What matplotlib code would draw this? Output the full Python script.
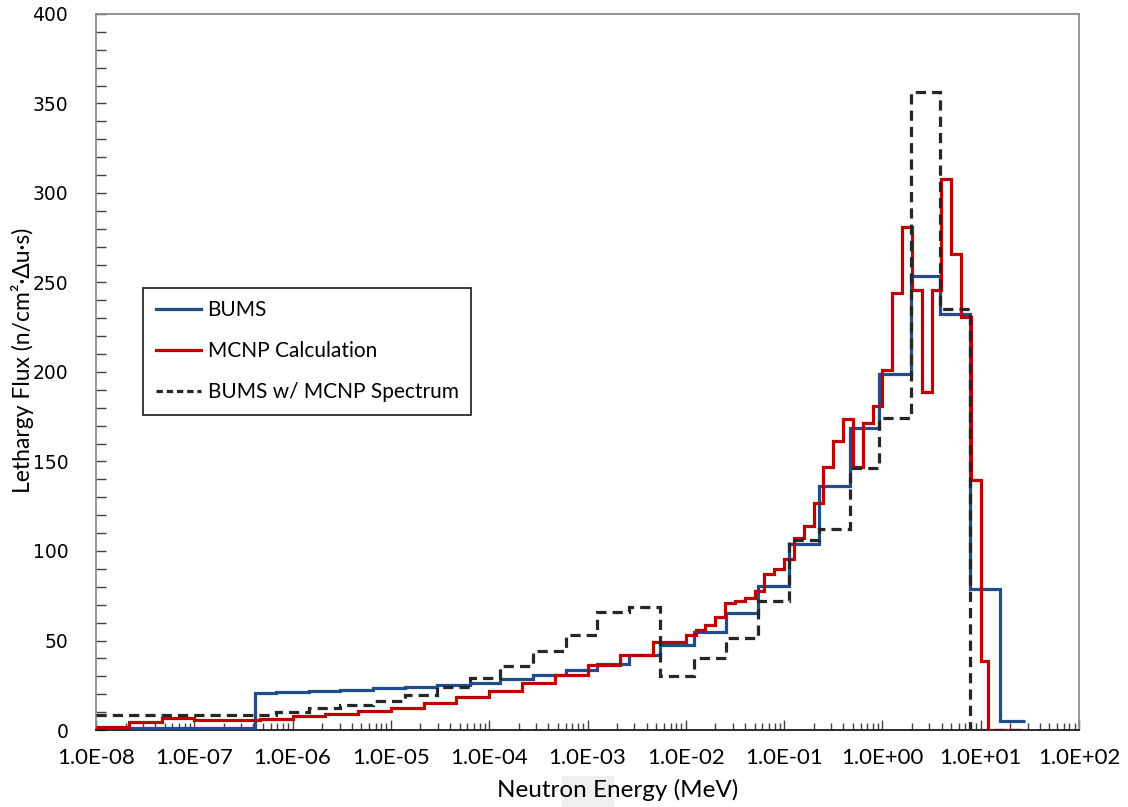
import numpy as np
import matplotlib
matplotlib.use("Agg")
import matplotlib.pyplot as plt
from matplotlib.patches import Rectangle
from matplotlib.ticker import LogLocator, MultipleLocator, FuncFormatter
from matplotlib.lines import Line2D

# ---- unfolded spectra: bin edges (MeV) and lethargy flux per bin ----
bums_edges = [2.19e-8, 4.17e-7, 6.76e-7, 1.48e-6, 3.02e-6, 6.61e-6, 1.38e-5,
              2.95e-5, 6.31e-5, 1.29e-4, 2.82e-4, 6.03e-4, 1.26e-3, 2.63e-3,
              5.50e-3, 1.20e-2, 2.57e-2, 5.37e-2, 0.113, 0.229, 0.465, 0.933,
              1.95, 3.85, 7.76, 15.7, 27.9]
bums_flux = [1.0, 20.5, 21.3, 21.8, 22.4, 23.3, 23.9, 25.0, 26.4, 28.5, 30.8,
             33.6, 36.9, 42.0, 47.6, 55.0, 65.6, 80.6, 104.0, 136.5, 168.8,
             199.0, 253.6, 232.5, 78.7, 5.2]

bums_mcnp_edges = [1.0e-8, 6.76e-7, 1.48e-6, 3.02e-6, 6.61e-6, 1.38e-5,
                   2.95e-5, 6.31e-5, 1.29e-4, 2.82e-4, 6.03e-4, 1.26e-3,
                   2.63e-3, 5.50e-3, 1.20e-2, 2.57e-2, 5.37e-2, 0.113, 0.229,
                   0.465, 0.933, 1.95, 3.85, 7.76, 15.7, 26.3]
bums_mcnp_flux = [8.6, 10.3, 12.1, 14.0, 16.4, 19.6, 23.9, 29.2, 35.8, 44.4,
                  53.1, 66.2, 68.6, 30.4, 40.1, 51.6, 72.3, 106.3, 112.3,
                  146.4, 174.3, 356.5, 235.3, 0.0, 0.0]

mcnp_edges = [1.00e-8, 2.15e-8, 4.64e-8, 1.00e-7, 2.15e-7, 4.64e-7, 1.00e-6,
              2.15e-6, 4.64e-6, 1.00e-5, 2.15e-5, 4.64e-5, 1.00e-4, 2.15e-4,
              4.64e-4, 1.00e-3, 2.15e-3, 4.64e-3, 1.00e-2, 1.26e-2, 1.58e-2,
              2.00e-2, 2.51e-2, 3.16e-2, 3.98e-2, 5.01e-2, 6.31e-2, 7.94e-2,
              0.100, 0.126, 0.158, 0.200, 0.251, 0.316, 0.398, 0.501, 0.631,
              0.794, 1.00, 1.26, 1.58, 2.00, 2.51, 3.16, 3.98, 5.01, 6.31,
              7.94, 10.0, 12.0, 26.3]
mcnp_flux = [1.6, 4.2, 6.5, 5.6, 5.6, 6.3, 8.0, 8.8, 10.6, 12.5, 15.3, 18.3,
             21.8, 26.1, 30.8, 36.4, 42.0, 49.4, 53.1, 55.9, 58.7, 63.4, 71.2,
             72.3, 73.6, 77.4, 87.3, 89.9, 95.7, 107.2, 113.7, 126.8, 146.7,
             161.7, 173.8, 147.0, 171.6, 181.0, 201.0, 244.0, 281.0, 245.6,
             189.0, 246.0, 307.7, 266.0, 231.0, 139.5, 38.6, 0.0]

series_labels = ["BUMS", "MCNP Calculation", "BUMS w/ MCNP Spectrum"]
x_tick_values = [1e-8, 1e-7, 1e-6, 1e-5, 1e-4, 1e-3, 1e-2, 1e-1, 1e0, 1e1, 1e2]

BLUE = "#1f4e8a"
RED = "#c00000"
DARK = "#262626"
FRAME = "#8c8c8c"

sans = ["Lato", "DejaVu Sans"]

fig = plt.figure(figsize=(11.28, 8.07), dpi=100)
fig.patches.append(Rectangle((562 / 1128, 0), 52 / 1128, 31 / 807,
                             transform=fig.transFigure, facecolor="#efefef",
                             edgecolor="none", zorder=-1))
ax = fig.add_axes([96 / 1128, 1 - 730 / 807, (1079 - 96) / 1128, (730 - 14) / 807])
ax.patch.set_alpha(0)

lw = 2.3
ax.stairs(bums_flux, bums_edges, color=BLUE, lw=lw, baseline=None, zorder=3)
ax.stairs(mcnp_flux, mcnp_edges, color=RED, lw=lw, baseline=None, zorder=4)
ax.stairs(bums_mcnp_flux, bums_mcnp_edges, color=DARK, lw=lw, baseline=None,
          linestyle=(0, (3.2, 1.9)), zorder=5)

ax.set_xscale("log")
ax.set_xlim(1e-8, 1e2)
ax.set_ylim(0, 400)

ax.set_xticks(x_tick_values)
ax.xaxis.set_minor_locator(LogLocator(base=10, subs=np.arange(2, 10), numticks=100))
ax.xaxis.set_major_formatter(FuncFormatter(lambda v, p: "%.1E" % v))
ax.yaxis.set_major_locator(MultipleLocator(50))
ax.yaxis.set_minor_locator(MultipleLocator(10))

for side in ("top", "right", "left"):
    ax.spines[side].set_color(FRAME)
    ax.spines[side].set_linewidth(1.3)
ax.spines["bottom"].set_color("#1a1a1a")
ax.spines["bottom"].set_linewidth(1.3)

ax.tick_params(axis="x", which="major", direction="in", length=7, width=1,
               color="#404040", pad=13, labelsize=16)
ax.tick_params(axis="x", which="minor", direction="in", length=5, width=1,
               color="#404040")
ax.tick_params(axis="y", which="both", direction="in", length=7, width=1,
               color="#404040", pad=20, labelsize=13.5)
for lab in ax.get_xticklabels():
    lab.set_family(sans)
for lab in ax.get_yticklabels():
    lab.set_family("DejaVu Sans")

ax.set_xlabel("Neutron Energy (MeV)", family=sans, fontsize=17.5, va="center")
ax.xaxis.set_label_coords((618 - 96) / 983, (730 - 790) / 716)
ax.set_ylabel("Lethargy Flux (n/cm²·Δu·s)", family=sans, fontsize=16.5,
              va="center")
ax.yaxis.set_label_coords((23 - 96) / 983, (730 - 360) / 716)

handles = [Line2D([], [], color=BLUE, lw=lw),
           Line2D([], [], color=RED, lw=lw),
           Line2D([], [], color=DARK, lw=lw, linestyle=(0, (2.0, 1.2)))]
leg = ax.legend(handles, series_labels, loc="upper left",
                bbox_to_anchor=(143 / 1128, 1 - 288 / 807),
                bbox_transform=fig.transFigure, borderaxespad=0,
                frameon=True, fancybox=False, framealpha=1,
                prop={"family": sans, "size": 15},
                handlelength=2.2, handletextpad=0.3, labelspacing=1.0,
                borderpad=0.6)
leg.get_frame().set_edgecolor("#1a1a1a")
leg.get_frame().set_linewidth(1.2)

fig.savefig("out.png", dpi=100)
